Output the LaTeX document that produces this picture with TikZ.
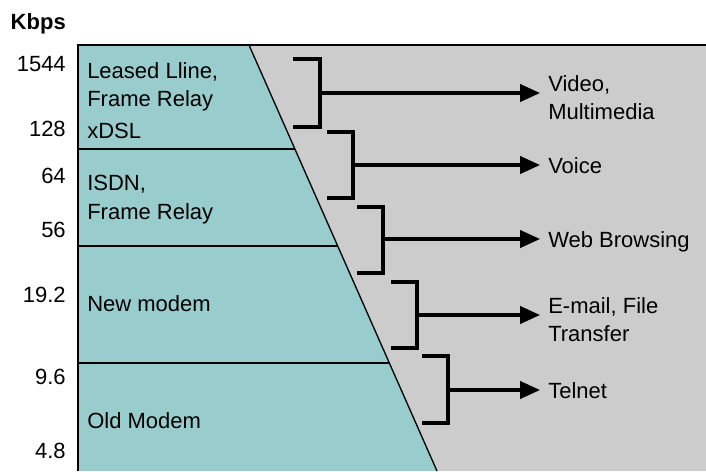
\documentclass[tikz,border=0pt]{standalone}
\usepackage{fontspec}
\setmainfont{Liberation Sans}
\usetikzlibrary{arrows.meta}

\definecolor{bandcol}{HTML}{99CCCC}
\definecolor{backcol}{HTML}{CCCCCC}

\tikzset{
  rate/.style={anchor=base east, inner sep=0pt},
  tech/.style={anchor=north west, inner sep=0pt, align=left},
  app/.style={inner xsep=6pt, inner ysep=0pt, align=left},
  bracket/.style={line width=2.4pt},
  feed/.style={line width=2.4pt, -{Triangle[length=15pt,width=13pt]}}
}

\begin{document}
\begin{tikzpicture}[x=0.75pt, y=-0.75pt,
    every node/.style={font=\fontsize{16.5}{21.5}\selectfont}]
  \useasboundingbox (0,0) rectangle (706,471);

  % grey right part and teal bands
  \fill[backcol] (249,45) -- (706,45) -- (706,471) -- (437,471) -- cycle;
  \fill[bandcol] (78,45) -- (249,45) -- (437,471) -- (78,471) -- cycle;
  \draw[line width=1.1pt] (78,471) -- (78,45) -- (706,45);
  \draw[line width=1pt] (249,45) -- (437,471);
  \draw[line width=0.9pt] (78,149) -- (295,149);
  \draw[line width=0.9pt] (78,246) -- (338,246);
  \draw[line width=0.9pt] (78,363) -- (389,363);

  % speed scale
  \node[rate, font=\fontsize{16.5}{20}\selectfont\bfseries] (kbps) at (66,29) {Kbps};
  \node[rate] (r1544) at (66,71) {1544};
  \node[rate] (r128) at (66,136) {128};
  \node[rate] (r64) at (66,183) {64};
  \node[rate] (r56) at (66,237) {56};
  \node[rate] (r192) at (66,302) {19.2};
  \node[rate] (r96) at (66,384) {9.6};
  \node[rate] (r48) at (66,458) {4.8};

  % access technologies
  \node[tech] (leased) at (87,62) {Leased Lline,\\Frame Relay\\[2pt]xDSL};
  \node[tech] (isdn) at (87,175) {ISDN,\\Frame Relay};
  \node[tech] (newmodem) at (87,295) {New modem};
  \node[tech] (oldmodem) at (87,412) {Old Modem};

  % applications
  \node[app, anchor=north west] (video) at (540,75) {Video,\\Multimedia};
  \node[app, anchor=base west] (voice) at (540,173) {Voice};
  \node[app, anchor=base west] (web) at (540,247) {Web Browsing};
  \node[app, anchor=north west] (email) at (540,297) {E-mail, File\\Transfer};
  \node[app, anchor=base west] (telnet) at (540,398) {Telnet};

  % brackets
  \draw[bracket] (293,59) -| (320,127) -- (293,127);
  \draw[bracket] (327,132) -| (353,198) -- (327,198);
  \draw[bracket] (357,207) -| (383,273) -- (357,273);
  \draw[bracket] (391,282) -| (417,348) -- (391,348);
  \draw[bracket] (422,356) -| (448,423) -- (422,423);
  \coordinate (m1) at (320,93);
  \coordinate (m2) at (353,165);
  \coordinate (m3) at (383,239);
  \coordinate (m4) at (417,315);
  \coordinate (m5) at (448,390);

  \draw[feed] (m1) -- (m1 -| video.west);
  \draw[feed] (m2) -- (m2 -| voice.west);
  \draw[feed] (m3) -- (m3 -| web.west);
  \draw[feed] (m4) -- (m4 -| email.west);
  \draw[feed] (m5) -- (m5 -| telnet.west);
\end{tikzpicture}
\end{document}
